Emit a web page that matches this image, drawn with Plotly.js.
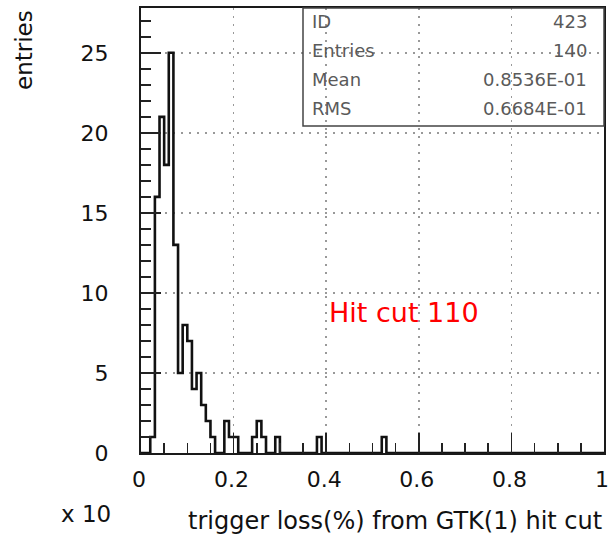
<!DOCTYPE html>
<html>
<head>
<meta charset="utf-8">
<script src="https://cdn.plot.ly/plotly-3.0.1.min.js"></script>
<style>
html,body{margin:0;padding:0;background:#fff;}
#chart{width:608px;height:554px;}
</style>
</head>
<body>
<div id="chart"></div>
<script>
// ---- data ----
const binWidth = 0.01;
const binStart = 0;
const counts = [
  0,0,1,16,21,18,25,13,5,8,
  7,4,5,3,2,1,0,0,2,1,
  1,0,0,0,1,2,1,0,0,1,
  0,0,0,0,0,0,0,0,1,0,
  0,0,0,0,0,0,0,0,0,0,
  0,0,1,0,0,0,0,0,0,0,
  0,0,0,0,0,0,0,0,0,0,
  0,0,0,0,0,0,0,0,0,0,
  0,0,0,0,0,0,0,0,0,0,
  0,0,0,0,0,0,0,0,0,0
];
const xTickVals = [0, 0.2, 0.4, 0.6, 0.8, 1];
const xTickText = ['0', '0.2', '0.4', '0.6', '0.8', '1'];
const yTickVals = [0, 5, 10, 15, 20, 25];
const yTickText = ['0', '5', '10', '15', '20', '25'];
const statLabels = ['ID', 'Entries', 'Mean', 'RMS'];
const statValues = ['423', '140', '0.8536E-01', '0.6684E-01'];
const xTitle = 'trigger loss(%) from GTK(1) hit cut';
const yTitle = 'entries';
const scaleNote = 'x 10';
const cutNote = 'Hit cut 110';

// ---- geometry ----
const W = 608, H = 554, L = 141, R = 4, T = 8, B = 101;
const pw = W - L - R, ph = H - T - B;
const px2x = p => (p - L) / pw;
const px2y = p => (H - B - p) / ph;
const X_RANGE = [0, 1], Y_RANGE = [0, 27.8];

// step outline of the histogram
const stepX = counts.map((c, i) => binStart + i * binWidth).concat([binStart + counts.length * binWidth]);
const stepY = counts.concat([counts[counts.length - 1]]);

const FONT = 'DejaVu Sans, Liberation Sans, sans-serif';
const AX = '#1a1a1a';

const traces = [
  {x: stepX, y: stepY, type: 'scatter', mode: 'lines',
   line: {shape: 'hv', color: '#111', width: 2.6}, hoverinfo: 'skip', showlegend: false}
];

const annotations = [];
annotations.push({xref:'paper', yref:'paper', x:px2x(24), y:1, xanchor:'center', yanchor:'top',
  textangle:-90, text:yTitle, showarrow:false, font:{family:FONT, size:23, color:'#111'}});
annotations.push({xref:'paper', yref:'paper', x:1, y:px2y(521), xanchor:'right', yanchor:'middle',
  text:xTitle, showarrow:false, font:{family:FONT, size:24, color:'#111'}});
annotations.push({xref:'paper', yref:'paper', x:px2x(113), y:px2y(514), xanchor:'right', yanchor:'middle',
  text:scaleNote, showarrow:false, font:{family:FONT, size:23, color:'#111'}});
annotations.push({xref:'paper', yref:'paper', x:px2x(327), y:px2y(312), xanchor:'left', yanchor:'middle',
  text:cutNote, showarrow:false, font:{family:FONT, size:27, color:'#ff0000'}});
const rowY = [21.5, 50.5, 79.5, 108.5];
statLabels.forEach((s, i) => {
  annotations.push({xref:'paper', yref:'paper', x:px2x(310), y:px2y(rowY[i]), xanchor:'left', yanchor:'middle',
    text:s, showarrow:false, font:{family:FONT, size:18, color:'#5a5a5a'}});
  annotations.push({xref:'paper', yref:'paper', x:px2x(589), y:px2y(rowY[i]), xanchor:'right', yanchor:'middle',
    text:statValues[i], showarrow:false, font:{family:FONT, size:18, color:'#5a5a5a'}});
});

const tickFont = {family: FONT, size: 22, color: '#111'};
const layout = {
  width: W, height: H,
  margin: {l: L, r: R, t: T, b: B, pad: 0},
  paper_bgcolor: '#fff', plot_bgcolor: '#fff',
  showlegend: false,
  xaxis: {
    range: X_RANGE, tickmode: 'array', tickvals: xTickVals, ticktext: xTickText,
    ticks: 'inside', ticklen: 20, tickwidth: 1.6, tickcolor: '#222',
    showline: true, mirror: true, linecolor: AX, linewidth: 2,
    showgrid: true, gridcolor: '#999', griddash: '2px,6px', gridwidth: 1.5,
    zeroline: false, ticklabelstandoff: 6, ticklabelshift: -2, ticklabeloverflow: 'allow',
    tickfont: tickFont,
    minor: {dtick: 0.05, tick0: 0, ticks: 'inside', ticklen: 10, tickwidth: 1.6, tickcolor: '#222', showgrid: false}
  },
  yaxis: {
    range: Y_RANGE, tickmode: 'array', tickvals: yTickVals, ticktext: yTickText,
    ticks: 'inside', ticklen: 20, tickwidth: 1.6, tickcolor: '#222',
    showline: true, mirror: true, linecolor: AX, linewidth: 2,
    showgrid: true, gridcolor: '#999', griddash: '2px,6px', gridwidth: 1.5,
    zeroline: false, ticklabelstandoff: 26, ticklabeloverflow: 'allow',
    tickfont: tickFont,
    minor: {dtick: 1, tick0: 0, ticks: 'inside', ticklen: 10, tickwidth: 1.6, tickcolor: '#222', showgrid: false}
  },
  shapes: [{
    type: 'rect', xref: 'paper', yref: 'paper',
    x0: px2x(303), x1: 1, y0: px2y(126), y1: 1,
    line: {color: '#444', width: 1.5}, fillcolor: 'rgba(0,0,0,0)'
  }],
  annotations: annotations
};

Plotly.newPlot('chart', traces, layout, {staticPlot: true, displayModeBar: false});
</script>
</body>
</html>
